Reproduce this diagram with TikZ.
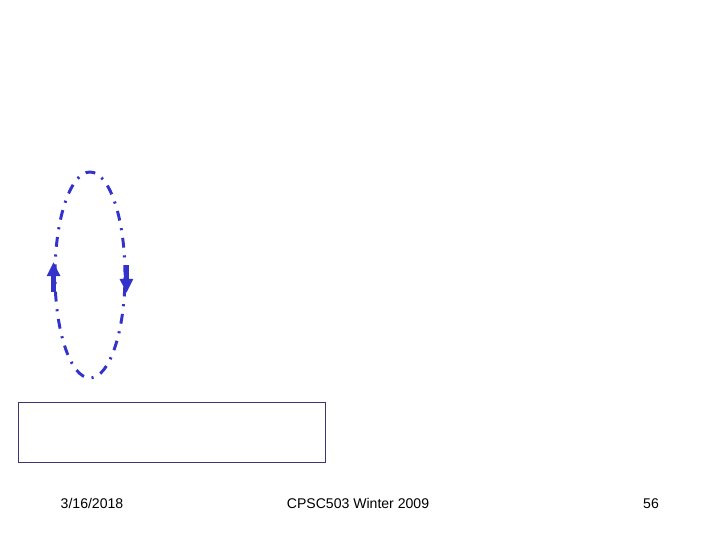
\documentclass[tikz,border=0pt]{standalone}
\usepackage{fontspec}
\setmainfont{Liberation Sans}
\usepackage{tikz}
\usetikzlibrary{arrows.meta,positioning,shapes.geometric}

\definecolor{loopblue}{RGB}{51,51,204}
\definecolor{boxline}{RGB}{60,56,110}

\begin{document}
\begin{tikzpicture}[x=0.025cm, y=-0.025cm,
  loop/.style={draw=loopblue, ellipse, line width=2.1pt, inner sep=0pt,
    dash pattern=on 7pt off 5.5pt on 1.5pt off 5.5pt},
  panel/.style={draw=boxline, line width=0.7pt, inner sep=0pt},
  flow/.style={-{Triangle[length=10pt, width=9pt]}, loopblue, line width=3.3pt},
  foot/.style={font=\fontsize{10}{12}\selectfont, text=black, anchor=base}
]
\useasboundingbox (0,0) rectangle (720,540);
\node[loop, minimum width=70*0.025cm, minimum height=206*0.025cm] (cycle) at (90,275) {};
\draw[flow] ([yshift=-17*0.025cm]cycle.west) -- ([yshift=13*0.025cm]cycle.west);
\draw[flow] ([yshift=10*0.025cm]cycle.east) -- ([yshift=-18*0.025cm]cycle.east);
\node[panel, minimum width=307*0.025cm, minimum height=60*0.025cm] (note) at (171.5,432) {};
\node[foot] (date) at (92,508) {3/16/2018};
\node[foot] (course) at (358,508) {CPSC503 Winter 2009};
\node[foot] (page) at (651,508) {56};
\end{tikzpicture}
\end{document}
